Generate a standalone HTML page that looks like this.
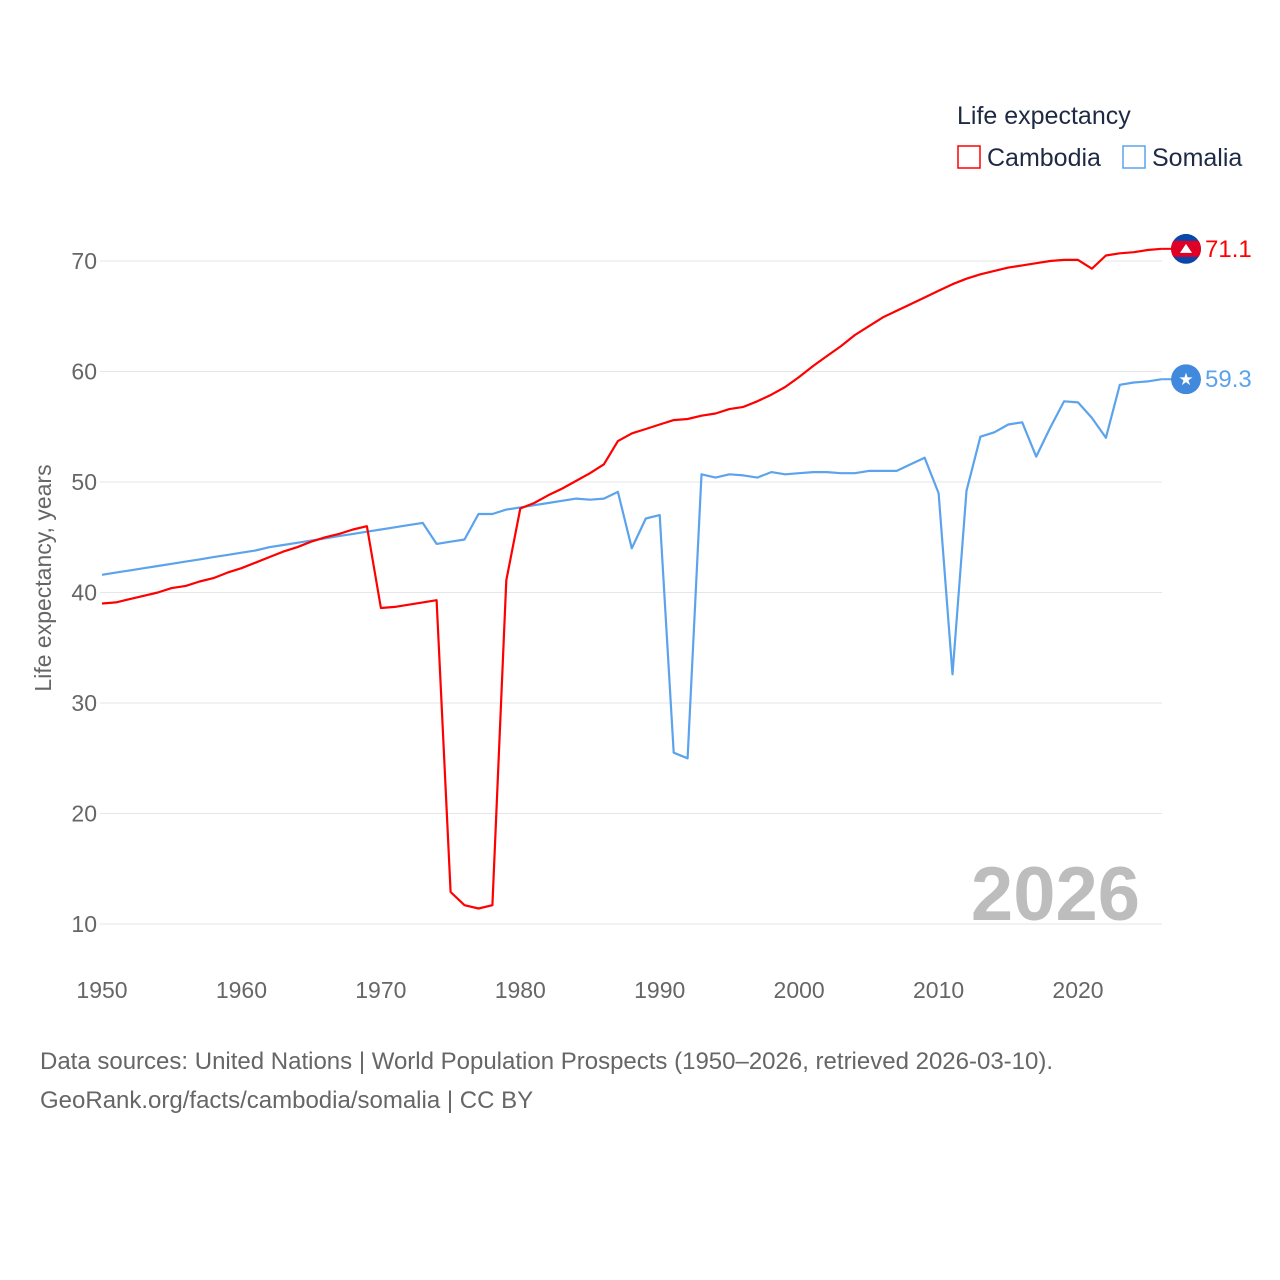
<!DOCTYPE html>
<html><head><meta charset="utf-8"><style>
body{margin:0;background:#fff;font-family:"Liberation Sans",sans-serif}
svg{display:block}
</style></head><body>
<svg width="1280" height="1280" viewBox="0 0 1280 1280">
<g id="grid"></g>
<g id="yticks"></g>
<g id="xticks"></g>
<text transform="translate(51,578) rotate(-90)" text-anchor="middle" font-size="23" fill="#666">Life expectancy, years</text>
<text x="1140" y="920" text-anchor="end" font-size="76" font-weight="bold" fill="#bdbdbd">2026</text>
<g id="series"></g>
<g>
<text x="957" y="124" font-size="25" fill="#1e2a44">Life expectancy</text>
<g><rect x="958" y="146" width="22" height="22" fill="none" stroke="#ff0000" stroke-width="1.5"/><text x="987" y="166" font-size="25" fill="#1e2a44">Cambodia</text></g>
<g><rect x="1123" y="146" width="22" height="22" fill="none" stroke="#5ba3ec" stroke-width="1.5"/><text x="1152" y="166" font-size="25" fill="#1e2a44">Somalia</text></g>
</g>
<text x="40" y="1069" font-size="24" fill="#666">Data sources: United Nations | World Population Prospects (1950–2026, retrieved 2026-03-10).</text>
<text x="40" y="1108" font-size="24" fill="#666">GeoRank.org/facts/cambodia/somalia | CC BY</text>
</svg>
<script>
const years=[];for(let y=1950;y<=2026;y++)years.push(y);
const cambodia=[39.0,39.1,39.4,39.7,40.0,40.4,40.6,41.0,41.3,41.8,42.2,42.7,43.2,43.7,44.1,44.6,45.0,45.3,45.7,46.0,38.6,38.7,38.9,39.1,39.3,12.9,11.7,11.4,11.7,41.1,47.6,48.1,48.8,49.4,50.1,50.8,51.6,53.7,54.4,54.8,55.2,55.6,55.7,56.0,56.2,56.6,56.8,57.3,57.9,58.6,59.5,60.5,61.4,62.3,63.3,64.1,64.9,65.5,66.1,66.7,67.3,67.9,68.4,68.8,69.1,69.4,69.6,69.8,70.0,70.1,70.1,69.3,70.5,70.7,70.8,71.0,71.1];
const somalia=[41.6,41.8,42.0,42.2,42.4,42.6,42.8,43.0,43.2,43.4,43.6,43.8,44.1,44.3,44.5,44.7,44.9,45.1,45.3,45.5,45.7,45.9,46.1,46.3,44.4,44.6,44.8,47.1,47.1,47.5,47.7,47.9,48.1,48.3,48.5,48.4,48.5,49.1,44.0,46.7,47.0,25.5,25.0,50.7,50.4,50.7,50.6,50.4,50.9,50.7,50.8,50.9,50.9,50.8,50.8,51.0,51.0,51.0,51.6,52.2,49.0,32.6,49.2,54.1,54.5,55.2,55.4,52.3,54.9,57.3,57.2,55.8,54.0,58.8,59.0,59.1,59.3];
const yTicks=[10,20,30,40,50,60,70];
const xTicks=[1950,1960,1970,1980,1990,2000,2010,2020];
const NS="http://www.w3.org/2000/svg";
const X=v=>102+(v-1950)*(1078-102)/70;
const Y=v=>924-(v-10)*(924-261)/60;
function mk(tag,attrs,parent,txt){const e=document.createElementNS(NS,tag);for(const k in attrs)e.setAttribute(k,attrs[k]);if(txt!==undefined)e.textContent=txt;parent.appendChild(e);return e;}
const grid=document.getElementById('grid'),yt=document.getElementById('yticks'),xt=document.getElementById('xticks'),ser=document.getElementById('series');
yTicks.forEach(t=>{
 const l=mk('line',{x1:100,x2:1162,y1:Y(t),y2:Y(t),stroke:'#e6e6e6','stroke-width':1},grid);
 
 
 const tx=mk('text',{x:97,y:Y(t)+8,'text-anchor':'end','font-size':23,fill:'#666'},yt,String(t));
 
 
});
xTicks.forEach(t=>{
 const tx=mk('text',{x:X(t),y:998,'text-anchor':'middle','font-size':23,fill:'#666'},xt,String(t));
 
 
});
function line(vals,color,name){
 const d=vals.map((v,i)=>(i?'L':'M')+X(years[i]).toFixed(1)+','+Y(v).toFixed(1)).join(' ');
 const p=mk('path',{d:d,fill:'none',stroke:color,'stroke-width':2.2,'stroke-linejoin':'round'},ser);
 
 
 const last=vals[vals.length-1];
 const ly=Y(last);
 mk('line',{x1:X(2026),x2:1172,y1:ly,y2:ly,stroke:color,'stroke-width':2},ser);
 const defs=mk('defs',{},ser);
 const cp=mk('clipPath',{id:'clip-'+name},defs);
 mk('circle',{cx:1186,cy:ly,r:15},cp);
 const g=mk('g',{'clip-path':'url(#clip-'+name+')'},ser);
 
 
 mk('circle',{cx:1186,cy:ly,r:15,fill:name==='cambodia'?'#0b47a8':'#4189dd'},g);
 if(name==='cambodia'){
  mk('rect',{x:1170,y:ly-8,width:32,height:16,fill:'#e00025'},g);
  mk('path',{d:`M1180,${ly+4} L1186,${ly-5} L1192,${ly+4} Z`,fill:'#fff'},g);
 } else {
  mk('text',{x:1186,y:ly+6,'text-anchor':'middle','font-size':17,fill:'#fff'},g,'★');
 }
 const t=mk('text',{x:1205,y:ly+8,'font-size':24,fill:color},ser,last.toFixed(1));
 
 
}
line(somalia,'#5ba3ec','somalia');
line(cambodia,'#ff0000','cambodia');
</script>
</body></html>
